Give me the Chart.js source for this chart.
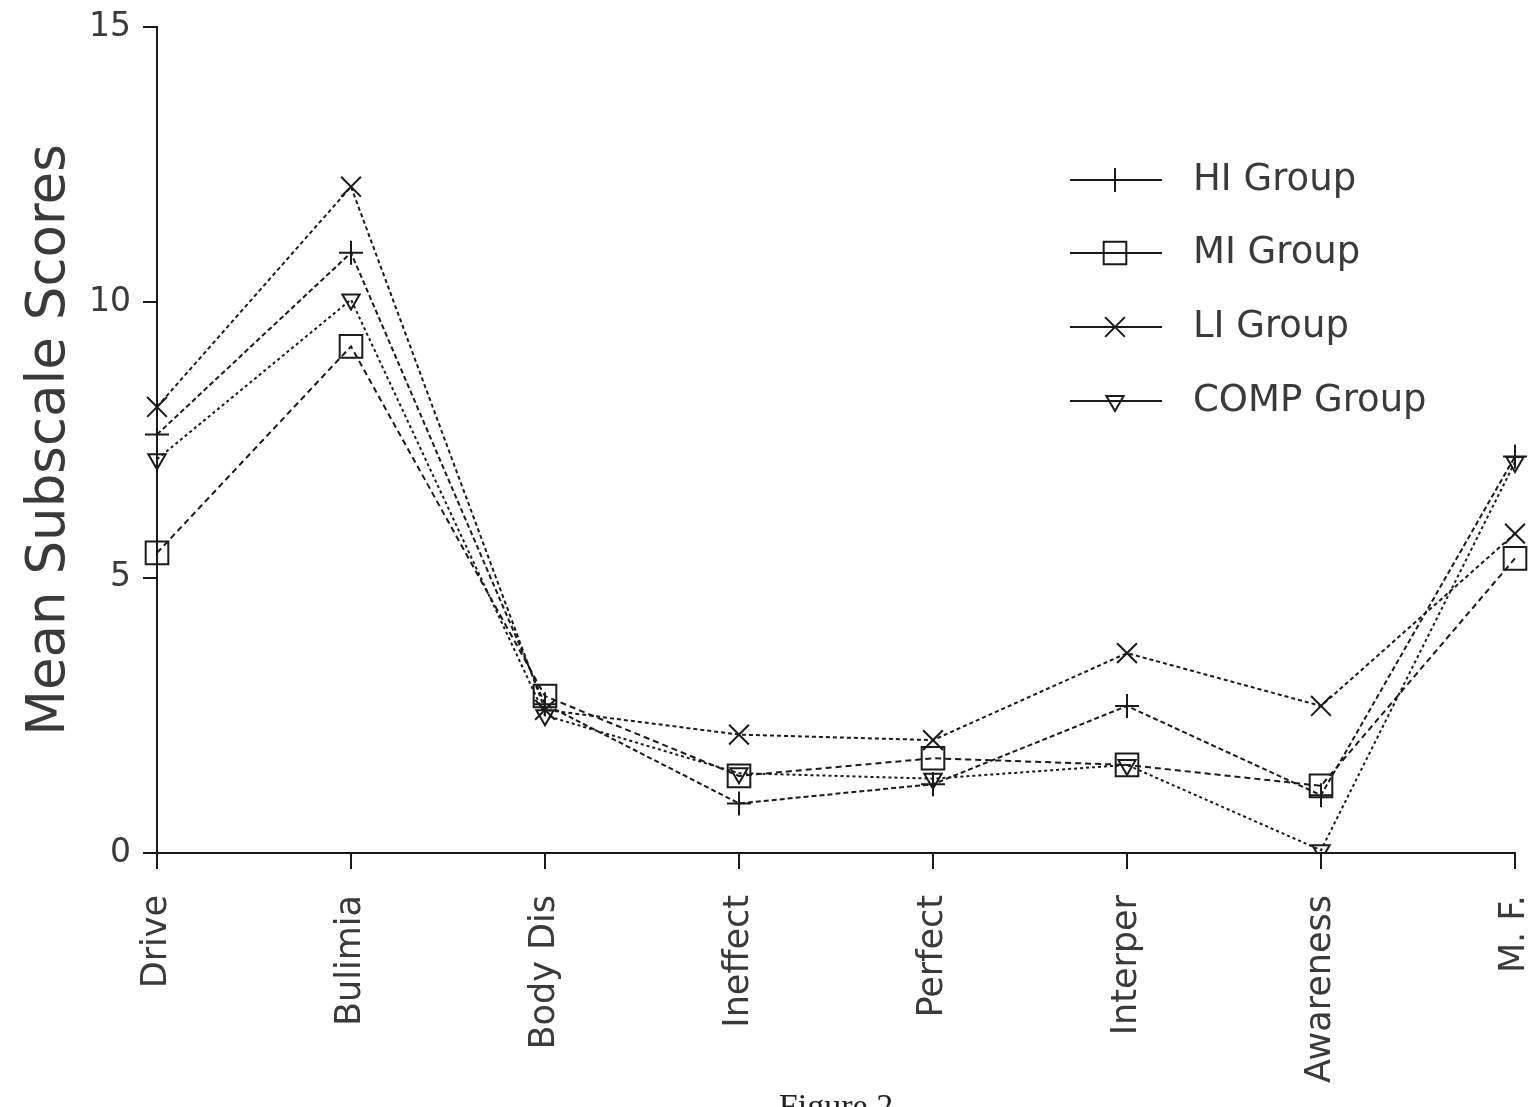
<!DOCTYPE html>
<html>
<head>
<meta charset="utf-8">
<script src="https://cdn.jsdelivr.net/npm/chart.js@4/dist/chart.umd.min.js"></script>
<style>
html,body{margin:0;padding:0;background:#fff;}
#wrap{width:1535px;height:1107px;position:relative;}
</style>
</head>
<body>
<div id="wrap"><canvas id="c" width="1535" height="1107"></canvas></div>
<script>
const categories = ["Drive", "Bulimia", "Body Dis", "Ineffect", "Perfect", "Interper", "Awareness", "M. F."];
const yTicks = [0, 5, 10, 15];
const hiGroup   = [7.6, 10.9, 2.7, 0.9, 1.25, 2.67, 1.05, 7.2];
const miGroup   = [5.45, 9.2, 2.85, 1.4, 1.72, 1.6, 1.22, 5.35];
const liGroup   = [8.1, 12.1, 2.6, 2.15, 2.05, 3.63, 2.67, 5.8];
const compGroup = [7.15, 10.05, 2.5, 1.45, 1.35, 1.6, 0.05, 7.1];
const seriesLabels = ["HI Group", "MI Group", "LI Group", "COMP Group"];
const figureCaption = "Figure 2";

const INK = '#1a1a1a';
const TXT = '#3a3a3a';

function ds(label, data, style, radius, rot, dash) {
  return {
    label, data,
    borderColor: INK, borderWidth: 2, borderDash: dash,
    pointStyle: style, pointRadius: radius, pointHoverRadius: radius,
    pointRotation: rot, pointBorderColor: INK, pointBorderWidth: 2,
    pointBackgroundColor: 'rgba(0,0,0,0)',
    fill: false, tension: 0
  };
}

const legendPlugin = {
  id: 'customLegend',
  afterDraw(chart) {
    const ctx = chart.ctx;
    const ys = [180, 253, 327, 401];
    ctx.save();
    chart.data.datasets.forEach((d, i) => {
      const y = ys[i];
      ctx.strokeStyle = INK; ctx.lineWidth = 2; ctx.setLineDash([]);
      ctx.beginPath(); ctx.moveTo(1070, y); ctx.lineTo(1162, y); ctx.stroke();
      const opts = {pointStyle: d.pointStyle, radius: d.pointRadius, rotation: d.pointRotation, borderWidth: 2};
      ctx.fillStyle = 'rgba(0,0,0,0)';
      ctx.strokeStyle = INK;
      Chart.helpers.drawPoint(ctx, opts, 1115, y);
      ctx.fillStyle = TXT;
      ctx.font = '37px "DejaVu Sans"';
      ctx.textBaseline = 'middle';
      ctx.textAlign = 'left';
      ctx.fillText(d.label, 1193, y);
    });
    // caption
    const ca = chart.chartArea;
    ctx.fillStyle = '#222';
    ctx.font = '34px "Liberation Serif"';
    ctx.textAlign = 'center';
    ctx.textBaseline = 'top';
    ctx.fillText(figureCaption, (ca.left + ca.right) / 2, 1091);
    ctx.restore();
  }
};

new Chart(document.getElementById('c'), {
  type: 'line',
  data: {
    labels: categories,
    datasets: [
      ds(seriesLabels[0], hiGroup, 'cross', 12, 0, [5, 3]),
      ds(seriesLabels[1], miGroup, 'rect', 16, 0, [6, 4]),
      ds(seriesLabels[2], liGroup, 'crossRot', 14, 0, [4, 3]),
      ds(seriesLabels[3], compGroup, 'triangle', 10, 180, [3, 3])
    ]
  },
  options: {
    responsive: false,
    animation: false,
    devicePixelRatio: 1,
    layout: {padding: {top: 27, right: 20, left: 0, bottom: 0}},
    plugins: {legend: {display: false}, tooltip: {enabled: false}, title: {display: false}},
    scales: {
      x: {
        type: 'category',
        offset: false,
        border: {display: true, color: INK, width: 2},
        grid: {display: true, drawOnChartArea: false, drawTicks: true, tickLength: 16, color: INK, lineWidth: 2},
        ticks: {
          maxRotation: 90, minRotation: 90, autoSkip: false,
          color: TXT, padding: 26,
          font: {family: 'DejaVu Sans', size: 35}
        },
        afterFit(scale) { scale.height = 254; scale.paddingRight = 0; scale.paddingLeft = 0; }
      },
      y: {
        min: 0, max: 15,
        afterBuildTicks(scale) { scale.ticks = yTicks.map(v => ({value: v})); },
        border: {display: true, color: INK, width: 2},
        grid: {display: true, drawOnChartArea: false, drawTicks: true, tickLength: 14, color: INK, lineWidth: 2},
        ticks: {color: TXT, padding: 12, font: {family: 'DejaVu Sans', size: 33}},
        title: {display: true, text: 'Mean Subscale Scores', color: TXT, font: {family: 'DejaVu Sans', size: 53}, padding: {top: 18, bottom: 10}},
        afterFit(scale) { scale.width = 157; scale.paddingTop = 0; scale.paddingBottom = 0; }
      }
    }
  },
  plugins: [legendPlugin]
});
</script>
</body>
</html>
